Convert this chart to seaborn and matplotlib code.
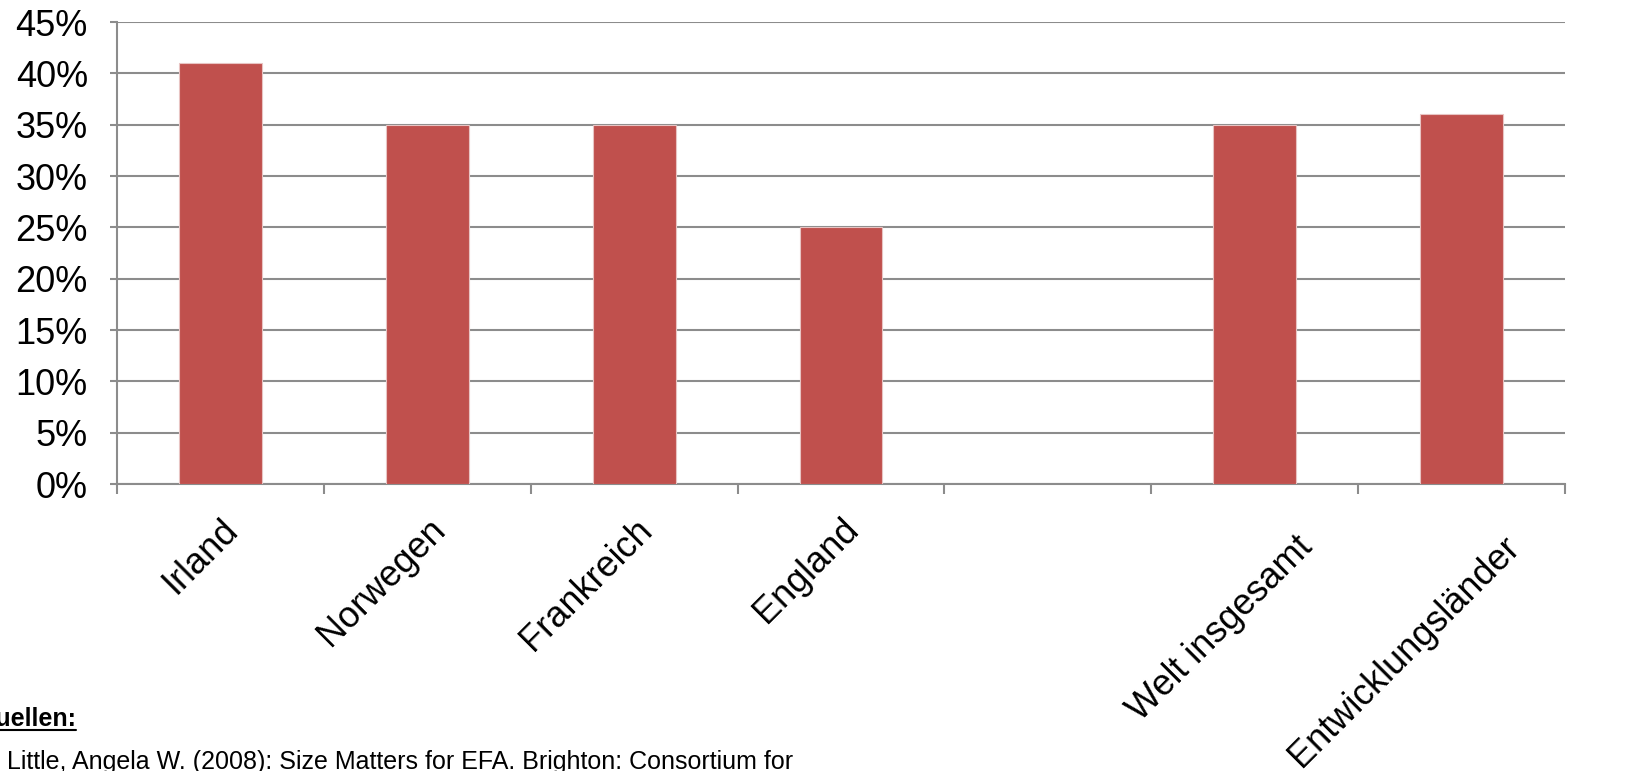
import matplotlib
matplotlib.use("Agg")
import matplotlib.pyplot as plt
import matplotlib.transforms as mtransforms
import seaborn as sns
import pandas as pd
import numpy as np
from matplotlib.lines import Line2D
from matplotlib.ticker import PercentFormatter, FixedLocator

sns.set_style("white")
plt.rcParams['font.family'] = ['Liberation Sans', 'DejaVu Sans']
plt.rcParams['text.color'] = 'black'
plt.rcParams['xtick.color'] = 'black'
plt.rcParams['ytick.color'] = 'black'

categories = ['Irland', 'Norwegen', 'Frankreich', 'England', ' ',
              'Welt insgesamt', 'Entwicklungsländer']
values = [0.41, 0.35, 0.35, 0.25, np.nan, 0.35, 0.36]
y_ticks = [0, 0.05, 0.10, 0.15, 0.20, 0.25, 0.30, 0.35, 0.40, 0.45]

df = pd.DataFrame({'cat': categories, 'val': values})

fig = plt.figure(figsize=(16.27, 7.71), dpi=100)
ax = fig.add_axes([117 / 1627, 1 - 484 / 771, 1448 / 1627, 462 / 771])

sns.barplot(data=df, x='cat', y='val', order=categories, color='#C0504D',
            saturation=1, width=0.4, ax=ax, zorder=3,
            edgecolor='#E8C4C3', linewidth=0.8)

grid_c = '#8C8C8C'
ax.set_ylim(0, 0.45)
ax.set_xlim(-0.5, len(categories) - 0.5)
ax.yaxis.set_major_locator(FixedLocator(y_ticks))
ax.yaxis.set_major_formatter(PercentFormatter(1.0, decimals=0))
ax.grid(axis='y', color=grid_c, linewidth=1.5, zorder=0)
ax.set_axisbelow(True)

for s in ['top', 'right']:
    ax.spines[s].set_visible(False)
for s in ['left', 'bottom']:
    ax.spines[s].set_color(grid_c)
    ax.spines[s].set_linewidth(1.5)

ax.tick_params(axis='y', labelsize=26, length=5, width=1.5, color=grid_c,
               labelcolor='black', direction='out', left=True, pad=16)
ax.set_xticks(np.arange(len(categories)))
ax.set_xticklabels(categories, rotation=45, ha='right', rotation_mode='anchor')
ax.set_xticks(np.arange(-0.5, len(categories)), minor=True)
ax.tick_params(axis='x', which='major', length=0, labelsize=26, pad=20,
               labelcolor='black')
ax.tick_params(axis='x', which='minor', length=7, width=1.5, color=grid_c,
               direction='out', bottom=True)
ax.set_xlabel('')
ax.set_ylabel('')

# the two long labels sit a bit further right/down in the original
shift = mtransforms.ScaledTranslation(40 / 100, -18 / 100, fig.dpi_scale_trans)
for lbl in ax.get_xticklabels()[5:]:
    lbl.set_transform(lbl.get_transform() + shift)

t = fig.text(-24 / 1627, 1 - 726 / 771, 'Quellen:', fontsize=18,
             fontweight='bold')
fig.text(7 / 1627, 1 - 769 / 771,
         'Little, Angela W. (2008): Size Matters for EFA. Brighton: Consortium for',
         fontsize=18)

fig.canvas.draw()
bb = t.get_window_extent().transformed(fig.transFigure.inverted())
fig.add_artist(Line2D([bb.x0, bb.x1], [1 - 730 / 771] * 2, color='black',
                      linewidth=1.5, transform=fig.transFigure))

fig.savefig('out.png', dpi=100)
